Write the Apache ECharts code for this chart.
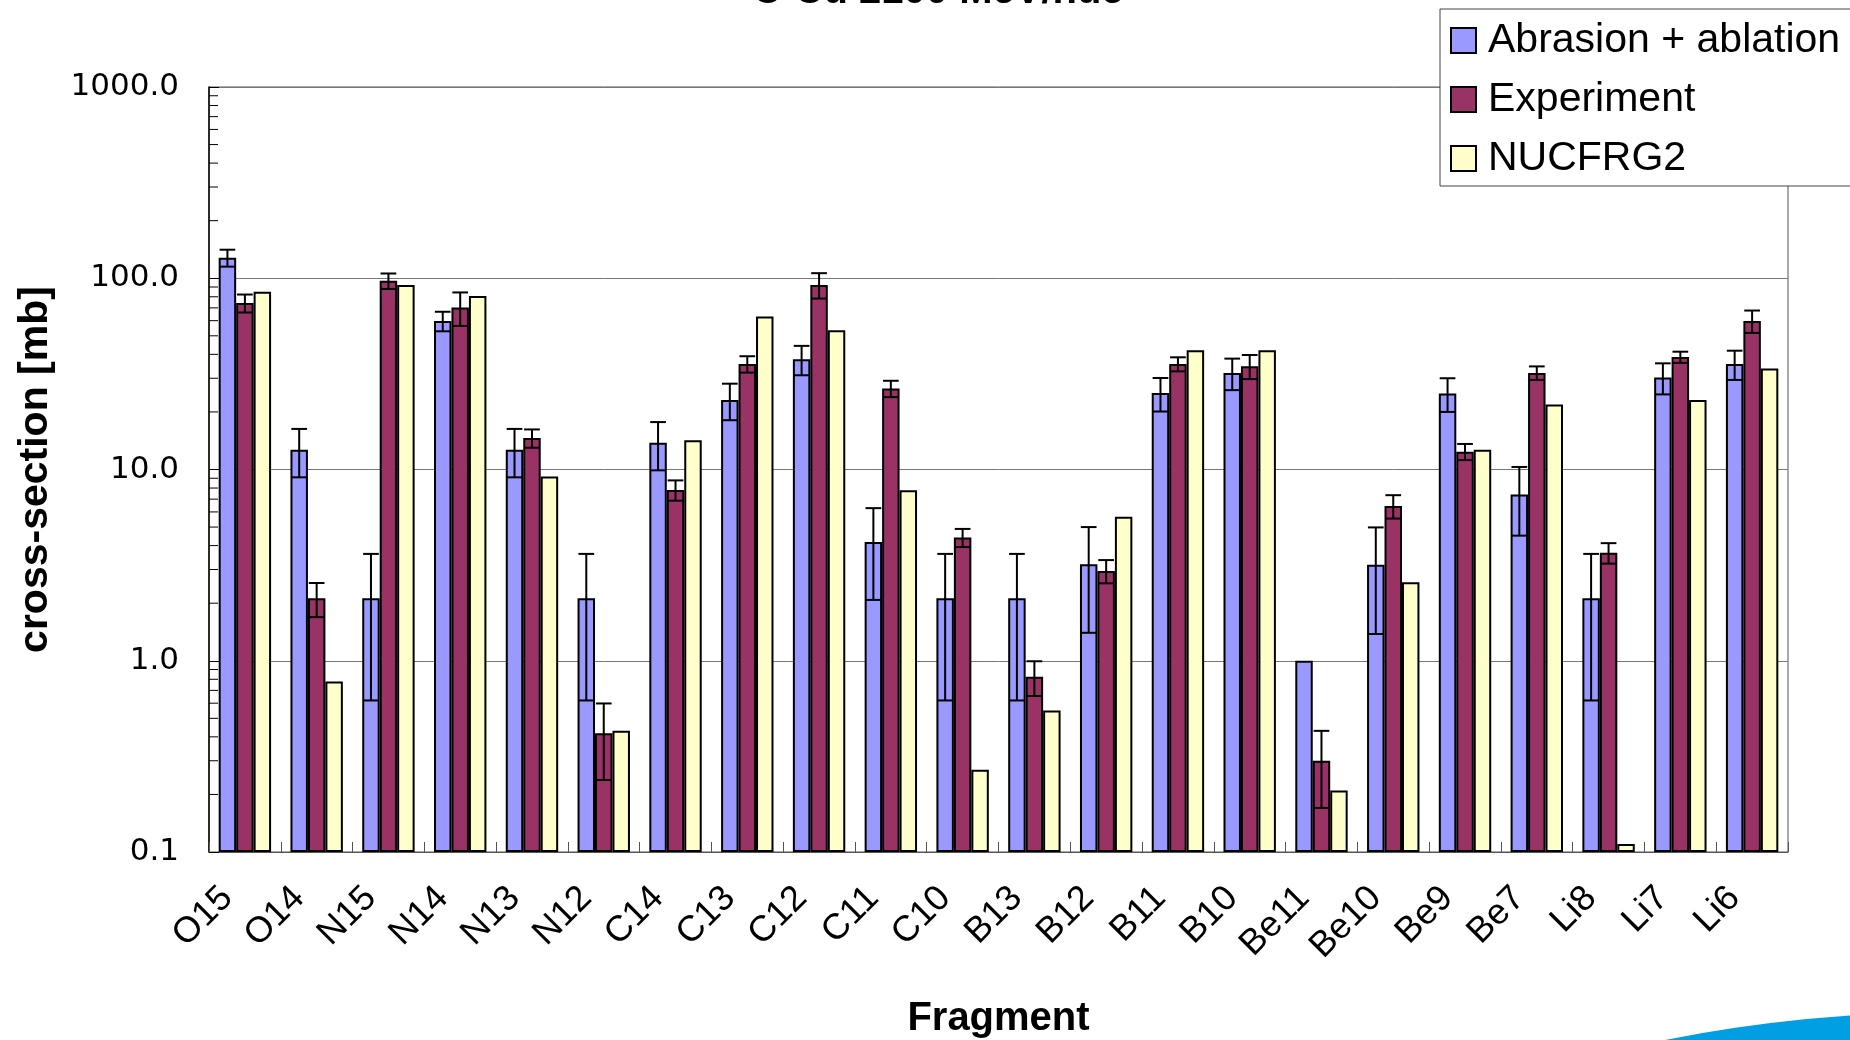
<!DOCTYPE html>
<html>
<head>
<meta charset="utf-8">
<script src="https://cdn.jsdelivr.net/npm/echarts@6/dist/echarts.min.js"></script>
<style>
html,body{margin:0;padding:0;background:#fff;}
#chart{width:1850px;height:1040px;}
</style>
</head>
<body>
<div id="chart"></div>
<script>
var categories = ['O15','O14','N15','N14','N13','N12','C14','C13','C12','C11','C10','B13','B12','B11','B10','Be11','Be10','Be9','Be7','Li8','Li7','Li6'];
var abrasion = [128, 12.7, 2.12, 59.8, 12.7, 2.12, 13.8, 23.1, 37.7, 4.18, 2.12, 2.12, 3.2, 25.1, 32.0, 1.0, 3.18, 25.0, 7.41, 2.12, 30.3, 35.6];
var abrasionErr = [13, 3.6, 1.5, 7, 3.6, 1.5, 3.9, 5, 6.6, 2.1, 1.5, 1.5, 1.8, 5, 6, 0, 1.8, 5, 2.9, 1.5, 5.6, 6.2];
var experiment = [74.2, 2.12, 96.9, 70.3, 14.6, 0.418, 7.82, 35.6, 92.3, 26.5, 4.41, 0.824, 2.95, 35.6, 34.7, 0.30, 6.44, 12.4, 32.0, 3.67, 38.7, 59.8];
var experimentErr = [8, 0.43, 9, 14, 1.6, 0.18, 0.95, 3.5, 14, 2.6, 0.48, 0.17, 0.41, 3, 5, 0.13, 0.9, 1.2, 2.6, 0.45, 2.6, 8];
var nucfrg2 = [85.1, 0.78, 92.3, 80.7, 9.2, 0.43, 14.2, 63.1, 53.5, 7.8, 0.269, 0.55, 5.66, 42.0, 42.0, 0.21, 2.57, 12.7, 21.9, 0.110, 23.1, 33.7];
var minorTickValues = [0.2,0.3,0.4,0.5,0.6,0.7,0.8,0.9,2,3,4,5,6,7,8,9,20,30,40,50,60,70,80,90,200,300,400,500,600,700,800,900];
var seriesNames = ['Abrasion + ablation','Experiment','NUCFRG2'];
var titleText = 'C-Cu 2100 MeV/nuc';

var CAT_GAP = 0.27;

function errSeries(vals, errs, idx) {
  return {
    type: 'custom',
    silent: true,
    z: 10,
    data: vals.map(function(v, i){ return [i, v, errs[i]]; }),
    encode: {x: 0, y: 1},
    renderItem: function(params, api) {
      var i = api.value(0), v = api.value(1), e = api.value(2);
      if (!e) return null;
      var band = api.size([1, 0])[0];
      var bw = band * (1 - CAT_GAP) / 3;
      var cx = api.coord([i, v])[0] + (idx - 1) * bw;
      var yTop = api.coord([i, v + e])[1];
      var yBot = api.coord([i, Math.max(v - e, 0.1)])[1];
      var half = bw * 0.45;
      var st = {stroke: '#000', lineWidth: 2};
      return {type: 'group', children: [
        {type: 'line', shape: {x1: cx, y1: yTop, x2: cx, y2: yBot}, style: st},
        {type: 'line', shape: {x1: cx - half, y1: yTop, x2: cx + half, y2: yTop}, style: st},
        {type: 'line', shape: {x1: cx - half, y1: yBot, x2: cx + half, y2: yBot}, style: st}
      ]};
    }
  };
}

var chart = echarts.init(document.getElementById('chart'), null, {renderer: 'canvas'});
var barStyle = function(c){ return {color: c, borderColor: '#000', borderWidth: 2}; };

chart.setOption({
  animation: false,
  backgroundColor: '#fff',
  textStyle: {fontFamily: 'Liberation Sans, Arial, sans-serif'},
  grid: {left: 209, right: 62, top: 87, bottom: 188, show: true, borderColor: '#555', borderWidth: 1, containLabel: false, outerBoundsMode: 'none'},
  graphic: [
    {type: 'text', x: 938, y: 12, style: {text: titleText, font: 'bold 40px "Liberation Sans", Arial, sans-serif', fill: '#000', textAlign: 'center', textVerticalAlign: 'bottom'}},
    {type: 'circle', shape: {cx: 1950, cy: 2476, r: 1464}, style: {fill: '#009FE3'}}
  ],
  legend: {
    data: seriesNames,
    orient: 'vertical',
    left: 1440, top: 9,
    padding: [11, 40, 7, 10],
    itemGap: 18,
    itemWidth: 25, itemHeight: 25,
    backgroundColor: '#fff',
    borderColor: '#444', borderWidth: 1,
    textStyle: {fontSize: 41, color: '#000', fontFamily: 'Liberation Sans, Arial, sans-serif', padding: [0, 0, 0, 7]},
    icon: 'rect'
  },
  xAxis: {
    type: 'category',
    data: categories,
    name: 'Fragment',
    nameLocation: 'middle',
    nameGap: 147,
    nameTextStyle: {fontSize: 40, fontWeight: 'bold', color: '#000'},
    axisLine: {lineStyle: {color: '#555', width: 1}},
    axisTick: {show: true, inside: true, length: 10, lineStyle: {color: '#555'}},
    axisLabel: {interval: 0, rotate: 45, fontSize: 36, color: '#000', margin: 23, padding: [0, 25, 0, 0]},
    splitLine: {show: false}
  },
  yAxis: {
    type: 'log',
    logBase: 10,
    min: 0.1, max: 1000,
    startValue: 0.1,
    name: 'cross-section [mb]',
    nameLocation: 'middle',
    nameGap: 153,
    nameRotate: 90,
    nameTextStyle: {fontSize: 41, fontWeight: 'bold', color: '#000'},
    axisLine: {show: true, lineStyle: {color: '#000', width: 1.5}},
    axisTick: {show: true, inside: true, length: 10, lineStyle: {color: '#000'}},
    axisLabel: {color: '#000', fontSize: 31, fontFamily: 'DejaVu Sans', margin: 30, formatter: function(v){ return Number(v).toFixed(1); }},
    splitLine: {show: true, lineStyle: {color: '#777', width: 1}}
  },
  series: [
    {name: seriesNames[0], type: 'bar', data: abrasion, barGap: '0%', barCategoryGap: (CAT_GAP*100)+'%', itemStyle: barStyle('#9999FF')},
    {name: seriesNames[1], type: 'bar', data: experiment, itemStyle: barStyle('#993366')},
    {name: seriesNames[2], type: 'bar', data: nucfrg2, itemStyle: barStyle('#FFFFCC')},
    errSeries(abrasion, abrasionErr, 0),
    errSeries(experiment, experimentErr, 1),
    {
      type: 'custom', silent: true, z: 5,
      data: minorTickValues.map(function(v){ return [0, v]; }),
      encode: {x: 0, y: 1},
      renderItem: function(params, api) {
        var y = api.coord([0, api.value(1)])[1];
        var x0 = params.coordSys.x;
        return {type: 'line', shape: {x1: x0, y1: y, x2: x0 + 9, y2: y}, style: {stroke: '#000', lineWidth: 1}};
      }
    }
  ]
});
</script>
</body>
</html>
